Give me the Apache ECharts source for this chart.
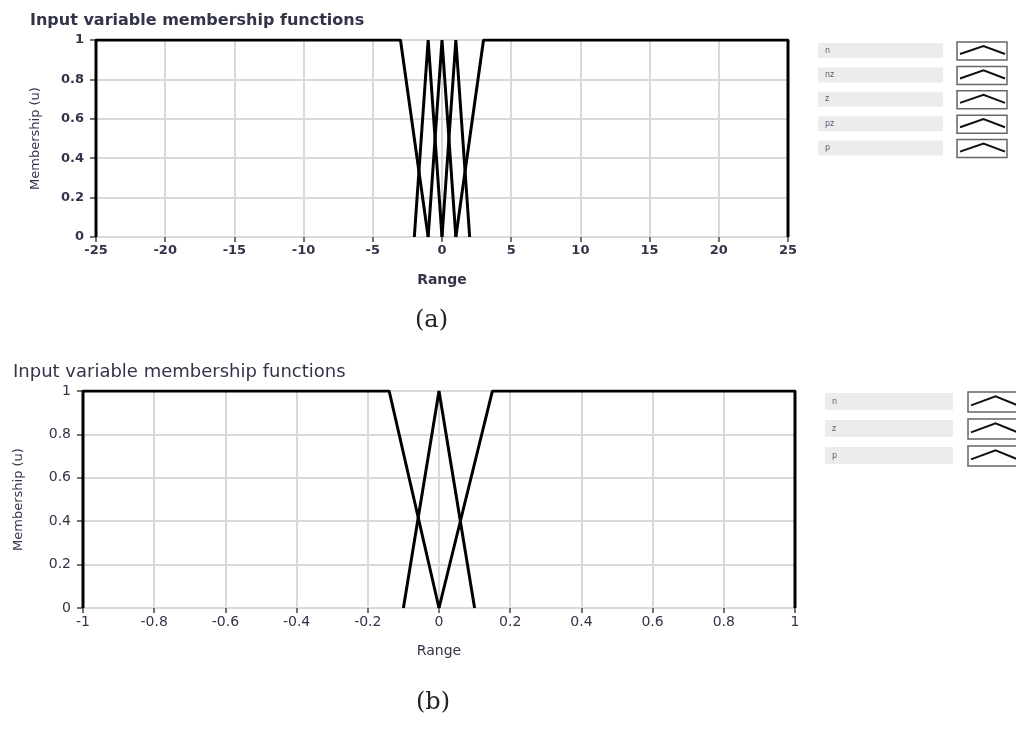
<!DOCTYPE html>
<html>
<head>
<meta charset="utf-8">
<script src="https://cdn.jsdelivr.net/npm/echarts@6/dist/echarts.min.js"></script>
<style>
  html, body { margin: 0; padding: 0; background: #fff; }
  #chart { width: 1016px; height: 729px; }
</style>
</head>
<body>
<div id="chart"></div>
<script>
// chart (a): range -25..25, five membership functions
var names_a = ['n', 'nz', 'z', 'pz', 'p'];
var n_a  = [[-25, 0], [-25, 1], [-3, 1], [-1, 0]];
var nz_a = [[-2, 0], [-1, 1], [0, 0]];
var z_a  = [[-1, 0], [0, 1], [1, 0]];
var pz_a = [[0, 0], [1, 1], [2, 0]];
var p_a  = [[1, 0], [3, 1], [25, 1], [25, 0]];

// chart (b): range -1..1, three membership functions
var names_b = ['n', 'z', 'p'];
var n_b = [[-1, 0], [-1, 1], [-0.14, 1], [0, 0]];
var z_b = [[-0.1, 0], [0, 1], [0.1, 0]];
var p_b = [[0, 0], [0.15, 1], [1, 1], [1, 0]];

var txt = '#33334a';
var gridGrey = '#d9d9d9';
var font = 'DejaVu Sans';

function xAxisOf(idx, min, max, step, bold) {
    return {
        type: 'value', gridIndex: idx, min: min, max: max, interval: step,
        name: 'Range', nameLocation: 'middle', nameGap: 36,
        nameTextStyle: { color: txt, fontSize: 14, fontFamily: font, fontWeight: bold ? 'bold' : 'normal' },
        axisLine: { show: true, onZero: false, lineStyle: { color: gridGrey, width: 2 } },
        axisTick: { show: true, length: 5, lineStyle: { color: '#444', width: 1.5 } },
        axisLabel: { color: txt, fontSize: bold ? 13 : 14, fontFamily: font, fontWeight: bold ? 'bold' : 'normal', margin: 7 },
        splitLine: { show: true, lineStyle: { color: gridGrey, width: 2 } }
    };
}
function yAxisOf(idx, gap, bold) {
    return {
        type: 'value', gridIndex: idx, min: 0, max: 1, interval: 0.2,
        name: 'Membership (u)', nameLocation: 'middle', nameGap: gap,
        nameTextStyle: { color: txt, fontSize: 13, fontFamily: font },
        axisLine: { show: true, onZero: false, lineStyle: { color: '#333', width: 2 } },
        axisTick: { show: true, length: 6, lineStyle: { color: '#444', width: 1.5 } },
        axisLabel: { color: txt, fontSize: bold ? 13 : 14, fontFamily: font, fontWeight: bold ? 'bold' : 'normal', margin: 12 },
        splitLine: { show: true, lineStyle: { color: gridGrey, width: 2 } }
    };
}
function mf(data, idx, w) {
    return {
        type: 'line', data: data, xAxisIndex: idx, yAxisIndex: idx,
        showSymbol: false, silent: true,
        lineStyle: { color: '#000', width: w }
    };
}
function legendOf(names, barX, barW, barH, boxX, boxW, boxH, top, step) {
    var els = [];
    names.forEach(function (nm, i) {
        var y = top + i * step;
        els.push({ type: 'rect', shape: { x: barX, y: y + 1, width: barW, height: barH }, style: { fill: '#ececec' } });
        els.push({ type: 'text', style: { x: barX + 7, y: y + 1 + barH / 2, text: nm, fill: '#5a5a70', fontSize: 8, fontFamily: font, verticalAlign: 'middle' } });
        els.push({ type: 'rect', shape: { x: boxX, y: y, width: boxW, height: boxH }, style: { fill: '#fff', stroke: '#666', lineWidth: 1.5 } });
        els.push({ type: 'polyline', shape: { points: [[boxX + 3, y + boxH * 0.67], [boxX + boxW * 0.53, y + boxH * 0.22], [boxX + boxW - 2, y + boxH * 0.67]] }, style: { stroke: '#111', lineWidth: 2, fill: null } });
    });
    return els;
}

var chart = echarts.init(document.getElementById('chart'));
var option = {
    animation: false,
    title: [
        { text: 'Input variable membership functions', left: 25, top: 8, textStyle: { color: txt, fontSize: 16, fontWeight: 'bold', fontFamily: font } },
        { text: 'Input variable membership functions', left: 8, top: 358, textStyle: { color: txt, fontSize: 18, fontWeight: 'normal', fontFamily: font } },
        { text: '(a)', left: 410, top: 304, textStyle: { color: '#222', fontSize: 24, fontWeight: 400, fontFamily: 'DejaVu Serif' } },
        { text: '(b)', left: 411, top: 686, textStyle: { color: '#222', fontSize: 24, fontWeight: 400, fontFamily: 'DejaVu Serif' } }
    ],
    grid: [
        { left: 96, top: 40, width: 692, height: 197, show: true, borderColor: '#333', borderWidth: 2 },
        { left: 83, top: 391, width: 712, height: 217, show: true, borderColor: '#333', borderWidth: 2 }
    ],
    xAxis: [xAxisOf(0, -25, 25, 5, true), xAxisOf(1, -1, 1, 0.2, false)],
    yAxis: [yAxisOf(0, 54, true), yAxisOf(1, 58, false)],
    series: [
        mf(n_a, 0, 3), mf(nz_a, 0, 3), mf(z_a, 0, 3), mf(pz_a, 0, 3), mf(p_a, 0, 3),
        mf(n_b, 1, 3), mf(z_b, 1, 3), mf(p_b, 1, 3)
    ],
    graphic: legendOf(names_a, 818, 125, 15, 957, 50, 18, 42, 24.4)
        .concat(legendOf(names_b, 825, 128, 17, 968, 52, 20, 392, 27))
};
chart.setOption(option);
</script>
</body>
</html>
